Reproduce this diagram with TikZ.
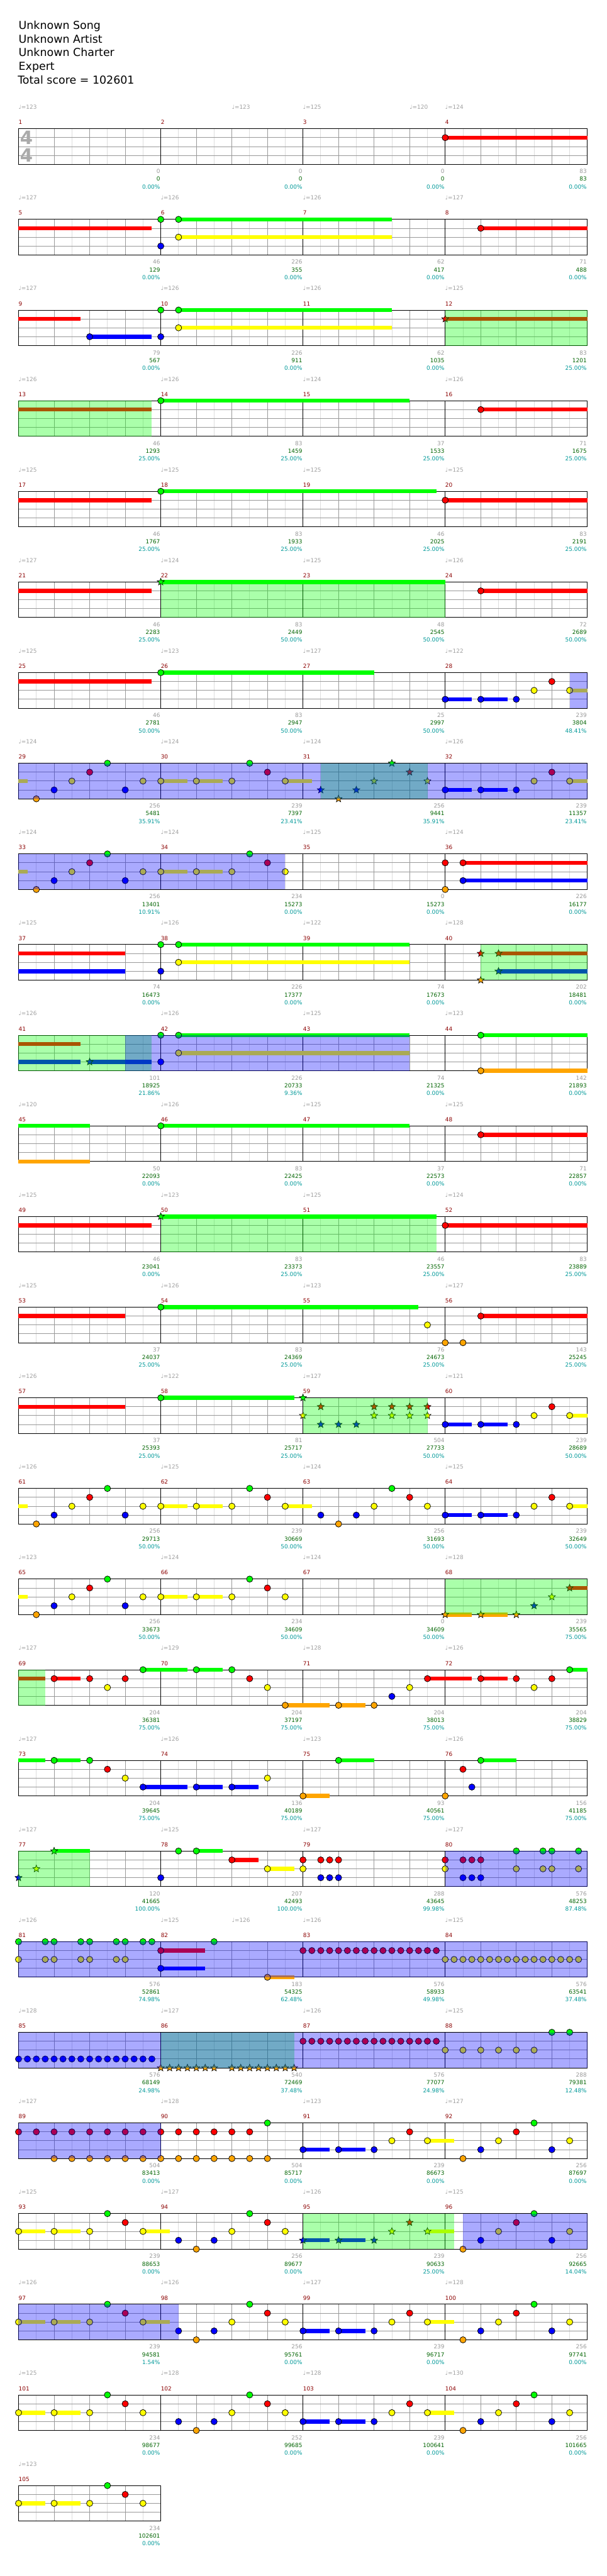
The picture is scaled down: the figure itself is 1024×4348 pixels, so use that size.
\documentclass[tikz,border=0pt]{standalone}
\usepackage{fontspec}
\setmainfont{DejaVu Sans}
\usetikzlibrary{shapes.geometric}
\definecolor{cG}{RGB}{0,255,0}
\definecolor{cR}{RGB}{255,0,0}
\definecolor{cY}{RGB}{255,255,0}
\definecolor{cB}{RGB}{0,0,255}
\definecolor{cO}{RGB}{255,165,0}
\definecolor{lgrid}{RGB}{221,221,221}
\definecolor{ggrid}{RGB}{153,153,153}
\definecolor{tempogray}{RGB}{160,160,160}
\definecolor{numgray}{RGB}{153,153,153}
\definecolor{mred}{RGB}{139,0,0}
\definecolor{numgreen}{RGB}{0,100,0}
\definecolor{numcyan}{RGB}{0,153,153}
\definecolor{tsgray}{RGB}{170,170,170}
% position helpers: measure, eighth position / lane
\newcommand\PX[2]{(31.3+240*mod(#1-1,4)+30*(#2))}
\newcommand\PY[2]{(-217.3-153*floor((#1-1)/4)-15*(#2))}
% notes
\newcommand\nt[4]{\foreach \pp in {#2}{\filldraw[notest,fill=#4] ({\PX{#1}{\pp}},{\PY{#1}{#3}}) circle[radius=5.3];}}
\newcommand\nG[2]{\nt{#1}{#2}{0}{cG}}
\newcommand\nR[2]{\nt{#1}{#2}{1}{cR}}
\newcommand\nY[2]{\nt{#1}{#2}{2}{cY}}
\newcommand\nB[2]{\nt{#1}{#2}{3}{cB}}
\newcommand\nO[2]{\nt{#1}{#2}{4}{cO}}
% star notes
\newcommand\snt[4]{\foreach \pp in {#2}{\node[starst,fill=#4] at ({\PX{#1}{\pp}},{\PY{#1}{#3}}) {};}}
\newcommand\sG[2]{\snt{#1}{#2}{0}{cG}}
\newcommand\sR[2]{\snt{#1}{#2}{1}{cR}}
\newcommand\sY[2]{\snt{#1}{#2}{2}{cY}}
\newcommand\sB[2]{\snt{#1}{#2}{3}{cB}}
\newcommand\sO[2]{\snt{#1}{#2}{4}{cO}}
% sustains
\newcommand\sus[5]{\fill[#5] ({\PX{#1}{#2}},{\PY{#1}{#4}+3.4}) rectangle ({\PX{#1}{#3}},{\PY{#1}{#4}-3.4});}
\newcommand\uG[3]{\sus{#1}{#2}{#3}{0}{cG}}
\newcommand\uR[3]{\sus{#1}{#2}{#3}{1}{cR}}
\newcommand\uY[3]{\sus{#1}{#2}{#3}{2}{cY}}
\newcommand\uB[3]{\sus{#1}{#2}{#3}{3}{cB}}
\newcommand\uO[3]{\sus{#1}{#2}{#3}{4}{cO}}
% overlays
\newcommand\spz[3]{\fill[cG,fill opacity=0.3333] ({\PX{#1}{#2}},{\PY{#1}{0}}) rectangle ({\PX{#1}{#3}},{\PY{#1}{4}});}
\newcommand\acz[3]{\fill[cB,fill opacity=0.3333] ({\PX{#1}{#2}},{\PY{#1}{0}}) rectangle ({\PX{#1}{#3}},{\PY{#1}{4}});}
% staff rows
\newcommand\staffrow[2]{%
 \pgfmathsetmacro\yt{-(217.3+153*#1)}%
 \pgfmathsetmacro\xr{31.3+240*#2}%
 \pgfmathtruncatemacro\nm{#2-1}%
 \foreach \j in {0,...,\nm}{%
   \foreach \k in {1,3,5,7} \draw[lightln] ({31.3+240*\j+30*\k},\yt) -- ++(0,-60);
   \foreach \k in {2,4,6} \draw[grayln] ({31.3+240*\j+30*\k},\yt) -- ++(0,-60);
 }%
 \foreach \k in {1,2,3} \draw[grayln] (31.3,{\yt-15*\k}) -- (\xr,{\yt-15*\k});
 \ifnum#2>1 \foreach \j in {1,...,\nm} \draw[blackln] ({31.3+240*\j},\yt) -- ++(0,-60); \fi
 \draw[blackln] (31.3,\yt) rectangle (\xr,{\yt-60});
}
\newcommand\tmp[4]{\node[tempost] (#1) at ({\PX{#2}{#3}},{\PY{#2}{0}+33}) {♩=#4};}
\begin{document}
\begin{tikzpicture}[x=1pt,y=1pt,
  notest/.style={draw=black,line width=0.8pt},
  starst/.style={star,star points=5,star point ratio=2.3,minimum size=12.5pt,inner sep=0pt,draw=black,line width=0.7pt},
  lightln/.style={draw=lgrid,line width=1pt},
  grayln/.style={draw=ggrid,line width=1pt},
  blackln/.style={draw=black,line width=1pt},
  tempost/.style={anchor=base west,inner sep=0pt,text=tempogray,font=\fontsize{9.5}{11}\selectfont},
  mnumst/.style={anchor=base west,inner sep=0pt,text=mred,font=\fontsize{9.5}{11}\selectfont},
  numA/.style={anchor=base east,inner sep=0pt,text=numgray,font=\fontsize{9.5}{11}\selectfont},
  numB/.style={anchor=base east,inner sep=0pt,text=numgreen,font=\fontsize{9.5}{11}\selectfont},
  numC/.style={anchor=base east,inner sep=0pt,text=numcyan,font=\fontsize{9.5}{11}\selectfont},
  titlest/.style={anchor=base west,inner sep=0pt,text=black,font=\fontsize{18.5}{22}\selectfont},
  tsig/.style={inner sep=0pt,text=tsgray,font=\fontsize{31}{34}\selectfont\bfseries}
]
\useasboundingbox (0,0) rectangle (1024,-4348);
\fill[white] (0,0) rectangle (1024,-4348);
% title
\node[titlest] (t1) at (31.3,-49.3) {Unknown Song};
\node[titlest] (t2) at (31.3,-72.3) {Unknown Artist};
\node[titlest] (t3) at (31.3,-95.3) {Unknown Charter};
\node[titlest] (t4) at (31.3,-118.3) {Expert};
\node[titlest] (t5) at (29.8,-141.3) {Total score = 102601};
% staves
\foreach \r in {0,...,25} {\staffrow{\r}{4}}
\staffrow{26}{1}
\node[tsig] (ts1) at (44.5,-232.5) {4};
\node[tsig] (ts2) at (44.5,-262.3) {4};
% sustains
\uR{4}{0}{8}
\uR{5}{0}{7.5}
\uG{6}{1}{13} \uY{6}{1}{13}
\uR{8}{2}{8}
\uR{9}{0}{3.5} \uB{9}{4}{7.5}
\uG{10}{1}{13} \uY{10}{1}{13}
\uR{12}{0}{8}
\uR{13}{0}{7.5}
\uG{14}{0}{14}
\uR{16}{2}{8}
\uR{17}{0}{7.5}
\uG{18}{0}{15.5}
\uR{20}{0}{8}
\uR{21}{0}{7.5}
\uG{22}{0}{16}
\uR{24}{2}{8}
\uR{25}{0}{7.5}
\uG{26}{0}{12}
\uB{28}{0}{1.5} \uB{28}{2}{3.5} \uY{28}{7}{8}
\uY{29}{0}{0.5}
\uY{30}{0}{1.5} \uY{30}{2}{3.5} \uY{30}{7}{8.5}
\uB{32}{0}{1.5} \uB{32}{2}{3.5} \uY{32}{7}{8}
\uY{33}{0}{0.5}
\uY{34}{0}{1.5} \uY{34}{2}{3.5}
\uR{36}{1}{8} \uB{36}{1}{8}
\uR{37}{0}{6} \uB{37}{0}{6}
\uG{38}{1}{14} \uY{38}{1}{14}
\uR{40}{3}{8} \uB{40}{3}{8}
\uR{41}{0}{3.5} \uB{41}{0}{3.5} \uB{41}{4}{7.5}
\uG{42}{1}{14} \uY{42}{1}{14}
\uG{44}{2}{8} \uO{44}{2}{8}
\uG{45}{0}{4} \uO{45}{0}{4}
\uG{46}{0}{14}
\uR{48}{2}{8}
\uR{49}{0}{7.5}
\uG{50}{0}{15.5}
\uR{52}{0}{8}
\uR{53}{0}{6}
\uG{54}{0}{14.5}
\uR{56}{2}{8}
\uR{57}{0}{6}
\uG{58}{0}{7.5}
\uB{60}{0}{1.5} \uB{60}{2}{3.5} \uY{60}{7}{8}
\uY{61}{0}{0.5}
\uY{62}{0}{1.5} \uY{62}{2}{3.5} \uY{62}{7}{8.5}
\uB{64}{0}{1.5} \uB{64}{2}{3.5} \uY{64}{7}{8}
\uY{65}{0}{0.5}
\uY{66}{0}{1.5} \uY{66}{2}{3.5}
\uO{68}{0}{1.5} \uO{68}{2}{3.5} \uR{68}{7}{8}
\uR{69}{0}{1.5} \uR{69}{2}{3.5} \uG{69}{7}{9.5}
\uG{70}{2}{3.5} \uO{70}{7}{9.5}
\uO{71}{2}{3.5} \uR{71}{7}{9.5}
\uR{72}{2}{3.5} \uG{72}{7}{8}
\uG{73}{0}{1.5} \uG{73}{2}{3.5} \uB{73}{7}{9.5}
\uB{74}{2}{3.5} \uB{74}{4}{5.5}
\uO{75}{0}{1.5} \uG{75}{2}{4}
\uG{76}{2}{4}
\uG{77}{2}{4}
\uG{78}{2}{3.5} \uR{78}{4}{5.5} \uY{78}{6}{7.5}
\uR{82}{0}{2.5} \uB{82}{0}{2.5} \uO{82}{6}{7.5}
\uB{91}{0}{1.5} \uB{91}{2}{3.5} \uY{91}{7}{8.5}
\uY{93}{0}{1.5} \uY{93}{2}{3.5} \uY{93}{7}{8.5}
\uB{95}{0}{1.5} \uB{95}{2}{3.5} \uY{95}{7}{8.5}
\uY{97}{0}{1.5} \uY{97}{2}{3.5} \uY{97}{7}{8.5}
\uB{99}{0}{1.5} \uB{99}{2}{3.5} \uY{99}{7}{8.5}
\uY{101}{0}{1.5} \uY{101}{2}{3.5}
\uB{103}{0}{1.5} \uB{103}{2}{3.5} \uY{103}{7}{8.5}
\uY{105}{0}{1.5} \uY{105}{2}{3.5}
% notes
\nR{4}{0}
\nG{6}{0,1} \nB{6}{0} \nY{6}{1}
\nR{8}{2}
\nB{9}{4}
\nG{10}{0,1} \nB{10}{0} \nY{10}{1}
\sR{12}{0}
\nG{14}{0}
\nR{16}{2}
\nG{18}{0}
\nR{20}{0}
\sG{22}{0}
\nR{24}{2}
\nG{26}{0}
\nB{28}{0,2,4} \nY{28}{5,7} \nR{28}{6}
\nO{29}{1} \nB{29}{2,6} \nY{29}{3,7} \nR{29}{4} \nG{29}{5}
\nY{30}{0,2,4,7} \nG{30}{5} \nR{30}{6}
\sB{31}{1,3} \sO{31}{2} \sY{31}{4,7} \sG{31}{5} \sR{31}{6}
\nB{32}{0,2,4} \nY{32}{5,7} \nR{32}{6}
\nO{33}{1} \nB{33}{2,6} \nY{33}{3,7} \nR{33}{4} \nG{33}{5}
\nY{34}{0,2,4,7} \nG{34}{5} \nR{34}{6}
\nR{36}{0,1} \nO{36}{0} \nB{36}{1}
\nG{38}{0,1} \nB{38}{0} \nY{38}{1}
\sR{40}{2,3} \sO{40}{2} \sB{40}{3}
\sB{41}{4}
\nG{42}{0,1} \nB{42}{0} \nY{42}{1}
\nG{44}{2} \nO{44}{2}
\nG{46}{0}
\nR{48}{2}
\sG{50}{0}
\nR{52}{0}
\nG{54}{0}
\nY{55}{7}
\nO{56}{0,1} \nR{56}{2}
\nG{58}{0}
\sG{59}{0} \sY{59}{0,4,5,6,7} \sR{59}{1,4,5,6,7} \sB{59}{1,2,3}
\nB{60}{0,2,4} \nY{60}{5,7} \nR{60}{6}
\nO{61}{1} \nB{61}{2,6} \nY{61}{3,7} \nR{61}{4} \nG{61}{5}
\nY{62}{0,2,4,7} \nG{62}{5} \nR{62}{6}
\nB{63}{1,3} \nO{63}{2} \nY{63}{4,7} \nG{63}{5} \nR{63}{6}
\nB{64}{0,2,4} \nY{64}{5,7} \nR{64}{6}
\nO{65}{1} \nB{65}{2,6} \nY{65}{3,7} \nR{65}{4} \nG{65}{5}
\nY{66}{0,2,4,7} \nG{66}{5} \nR{66}{6}
\sO{68}{0,2,4} \sB{68}{5} \sY{68}{6} \sR{68}{7}
\nR{69}{2,4,6} \nY{69}{5} \nG{69}{7}
\nG{70}{2,4} \nR{70}{5} \nY{70}{6} \nO{70}{7}
\nO{71}{2,4} \nB{71}{5} \nY{71}{6} \nR{71}{7}
\nR{72}{2,4,6} \nY{72}{5} \nG{72}{7}
\nG{73}{2,4} \nR{73}{5} \nY{73}{6} \nB{73}{7}
\nB{74}{2,4} \nY{74}{6}
\nO{75}{0} \nG{75}{2}
\nO{76}{0} \nR{76}{1} \nB{76}{1.5} \nG{76}{2}
\sB{77}{0} \sY{77}{1} \sG{77}{2}
\nB{78}{0} \nG{78}{1,2} \nR{78}{4} \nY{78}{6}
\nR{79}{0,1,1.5,2} \nY{79}{0} \nB{79}{1,1.5,2}
\nR{80}{0,1,1.5,2} \nY{80}{0,4,5.5,6,7.5} \nB{80}{1,1.5,2} \nG{80}{4,5.5,6,7.5}
\nG{81}{0,1.5,2,3.5,4,5.5,6,7,7.5} \nY{81}{0,1.5,2,3.5,4,5.5,6}
\nR{82}{0} \nB{82}{0} \nG{82}{3} \nO{82}{6}
\nR{83}{0,0.5,...,7.5}
\nY{84}{0,0.5,...,7.5}
\nB{85}{0,0.5,...,7.5}
\sO{86}{0,0.5,...,3} \sO{86}{4,4.5,...,7.5}
\nR{87}{0,0.5,...,7.5}
\nY{88}{0,1,2,3,4,5} \nG{88}{6,7}
\nR{89}{0,...,7} \nO{89}{2,...,7}
\nR{90}{0,...,5} \nO{90}{0,...,6} \nG{90}{6}
\nB{91}{0,2,4} \nY{91}{5,7} \nR{91}{6}
\nO{92}{1} \nB{92}{2,6} \nY{92}{3,7} \nR{92}{4} \nG{92}{5}
\nY{93}{0,2,4,7} \nG{93}{5} \nR{93}{6}
\nB{94}{1,3} \nO{94}{2} \nY{94}{4,7} \nG{94}{5} \nR{94}{6}
\sB{95}{0,2,4} \sY{95}{5,7} \sR{95}{6}
\nO{96}{1} \nB{96}{2,6} \nY{96}{3,7} \nR{96}{4} \nG{96}{5}
\nY{97}{0,2,4,7} \nG{97}{5} \nR{97}{6}
\nB{98}{1,3} \nO{98}{2} \nY{98}{4,7} \nG{98}{5} \nR{98}{6}
\nB{99}{0,2,4} \nY{99}{5,7} \nR{99}{6}
\nO{100}{1} \nB{100}{2,6} \nY{100}{3,7} \nR{100}{4} \nG{100}{5}
\nY{101}{0,2,4,7} \nG{101}{5} \nR{101}{6}
\nB{102}{1,3} \nO{102}{2} \nY{102}{4,7} \nG{102}{5} \nR{102}{6}
\nB{103}{0,2,4} \nY{103}{5,7} \nR{103}{6}
\nO{104}{1} \nB{104}{2,6} \nY{104}{3,7} \nR{104}{4} \nG{104}{5}
\nY{105}{0,2,4,7} \nG{105}{5} \nR{105}{6}
% star power phrases
\spz{12}{0}{8} \spz{13}{0}{7.5} \spz{22}{0}{16} \spz{31}{1}{7} \spz{40}{2}{8}
\spz{41}{0}{7.5} \spz{50}{0}{15.5} \spz{59}{0}{7} \spz{68}{0}{8} \spz{69}{0}{1.5}
\spz{77}{0}{4} \spz{86}{0}{7.5} \spz{95}{0}{8.5}
% activations
\acz{28}{7}{8} \acz{29}{0}{32} \acz{33}{0}{15} \acz{41}{6}{22} \acz{80}{0}{8}
\acz{81}{0}{32} \acz{85}{0}{32} \acz{89}{0}{8} \acz{96}{1}{8} \acz{97}{0}{9}
% measure numbers
\foreach \m in {1,...,105} {\node[mnumst] (mn\m) at ({\PX{\m}{0}},{\PY{\m}{0}+7.3}) {\m};}
% tempos
\foreach \m/\t in {1/123,3/125,4/124,5/127,6/126,7/126,8/127,9/127,10/126,11/126,12/125,
 13/126,14/126,15/124,16/126,17/125,18/125,19/125,20/125,21/127,22/124,23/125,24/126,
 25/125,26/123,27/127,28/122,29/124,30/124,31/124,32/126,33/124,34/124,35/125,36/124,
 37/125,38/126,39/122,40/128,41/126,42/126,43/125,44/123,45/120,46/126,47/125,48/125,
 49/125,50/123,51/125,52/124,53/125,54/126,55/123,56/127,57/126,58/122,59/127,60/121,
 61/126,62/125,63/124,64/125,65/123,66/124,67/124,68/128,69/127,70/129,71/128,72/126,
 73/127,74/126,75/123,76/126,77/127,78/125,79/127,80/127,81/126,82/125,83/126,84/125,
 85/128,86/127,87/126,88/125,89/127,90/128,91/123,92/127,93/125,94/127,95/126,96/125,
 97/126,98/126,99/127,100/128,101/125,102/128,103/128,104/130,105/123}
 {\tmp{tp\m}{\m}{0}{\t}}
\tmp{tpxa}{2}{4}{123}
\tmp{tpxb}{3}{6}{120}
\tmp{tpxc}{82}{4}{126}
% measure statistics
\foreach \m/\a/\b/\c in {1/0/0/0.00,2/0/0/0.00,3/0/0/0.00,4/83/83/0.00,
 5/46/129/0.00,6/226/355/0.00,7/62/417/0.00,8/71/488/0.00,
 9/79/567/0.00,10/226/911/0.00,11/62/1035/0.00,12/83/1201/25.00,
 13/46/1293/25.00,14/83/1459/25.00,15/37/1533/25.00,16/71/1675/25.00,
 17/46/1767/25.00,18/83/1933/25.00,19/46/2025/25.00,20/83/2191/25.00,
 21/46/2283/25.00,22/83/2449/50.00,23/48/2545/50.00,24/72/2689/50.00,
 25/46/2781/50.00,26/83/2947/50.00,27/25/2997/50.00,28/239/3804/48.41,
 29/256/5481/35.91,30/239/7397/23.41,31/256/9441/35.91,32/239/11357/23.41,
 33/256/13401/10.91,34/234/15273/0.00,35/0/15273/0.00,36/226/16177/0.00,
 37/74/16473/0.00,38/226/17377/0.00,39/74/17673/0.00,40/202/18481/0.00,
 41/101/18925/21.86,42/226/20733/9.36,43/74/21325/0.00,44/142/21893/0.00,
 45/50/22093/0.00,46/83/22425/0.00,47/37/22573/0.00,48/71/22857/0.00,
 49/46/23041/0.00,50/83/23373/25.00,51/46/23557/25.00,52/83/23889/25.00,
 53/37/24037/25.00,54/83/24369/25.00,55/76/24673/25.00,56/143/25245/25.00,
 57/37/25393/25.00,58/81/25717/25.00,59/504/27733/50.00,60/239/28689/50.00,
 61/256/29713/50.00,62/239/30669/50.00,63/256/31693/50.00,64/239/32649/50.00,
 65/256/33673/50.00,66/234/34609/50.00,67/0/34609/50.00,68/239/35565/75.00,
 69/204/36381/75.00,70/204/37197/75.00,71/204/38013/75.00,72/204/38829/75.00,
 73/204/39645/75.00,74/136/40189/75.00,75/93/40561/75.00,76/156/41185/75.00,
 77/120/41665/100.00,78/207/42493/100.00,79/288/43645/99.98,80/576/48253/87.48,
 81/576/52861/74.98,82/183/54325/62.48,83/576/58933/49.98,84/576/63541/37.48,
 85/576/68149/24.98,86/540/72469/37.48,87/576/77077/24.98,88/288/79381/12.48,
 89/504/83413/0.00,90/504/85717/0.00,91/239/86673/0.00,92/256/87697/0.00,
 93/239/88653/0.00,94/256/89677/0.00,95/239/90633/25.00,96/256/92665/14.04,
 97/239/94581/1.54,98/256/95761/0.00,99/239/96717/0.00,100/256/97741/0.00,
 101/234/98677/0.00,102/252/99685/0.00,103/239/100641/0.00,104/256/101665/0.00,
 105/234/102601/0.00}
{
 \node[numA] (na\m) at ({\PX{\m}{8}-1},{\PY{\m}{0}-75.4}) {\a};
 \node[numB] (nb\m) at ({\PX{\m}{8}-1},{\PY{\m}{0}-88.4}) {\b};
 \node[numC] (nc\m) at ({\PX{\m}{8}-1},{\PY{\m}{0}-101.4}) {\c\%};
}
\end{tikzpicture}
\end{document}
